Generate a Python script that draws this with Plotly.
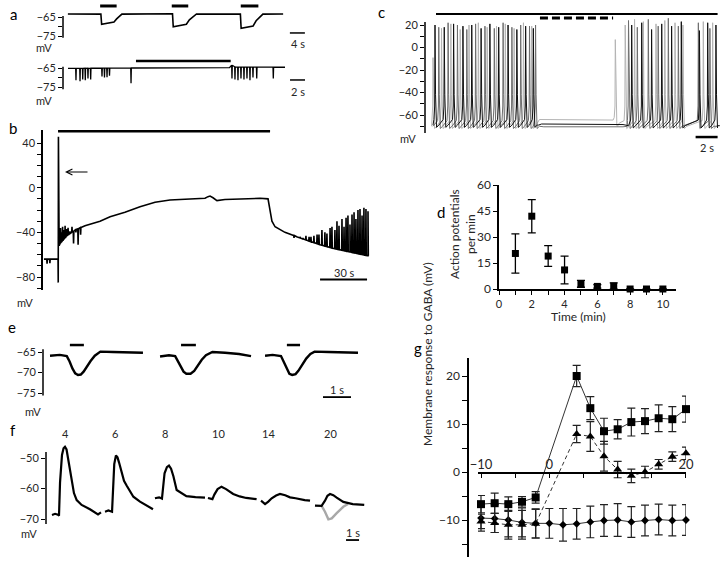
import numpy as np
import plotly.graph_objs as go

W, H = 725, 563
FONT = 'Lato'
TXT = '#262626'

# ---------------- values ----------------
# a, upper trace (s, mV) and GABA puffs
a1_t = [1.3, 10.1, 10.3, 13.6, 14.3, 15.7, 29.2, 29.4, 32.9, 33.7, 35.6, 47.3, 47.5, 50.7, 51.5, 53.3, 58.7]
a1_v = [-63.4, -63.5, -68.8, -67.6, -66.0, -63.5, -63.3, -70.1, -68.8, -66.5, -63.4, -63.5, -71.0, -69.7, -67.0, -63.5, -63.4]
a1_on = [9.9, 29.0, 47.4]
a1_off = [14.3, 33.4, 52.1]

# a, lower trace (s, mV) with downward spikelets
a2_t = [0.67, 9.5, 22.2, 22.5, 23.0, 29.6]
a2_v = [-65.2, -65.0, -64.8, -63.5, -64.5, -64.6]
a2_spk_t = [1.73, 2.27, 2.63, 2.97, 3.33, 3.69, 5.2, 5.53, 5.87, 6.2, 9.07,
            22.53, 22.93, 23.33, 23.73, 24.13, 24.53, 24.93, 25.33, 25.83, 28.04]
a2_spk_v = [-71.5, -72, -71, -71.5, -70.5, -71, -69.5, -70, -69.8, -69, -73,
            -70.5, -71, -71.5, -70.5, -71, -70.5, -71.5, -70, -70.5, -70.5]
a2_on = [9.73]
a2_off = [22.36]

# b, long application (s, mV)
b_t = [0.6, 9.6, 9.72, 9.85, 9.95, 10.3, 10.9, 12.8, 15.3, 20.4, 26.8, 36.4, 42.8, 52.3, 61.9, 71.5, 81.0,
       93.8, 103.4, 105.3, 106.6, 108.5, 111.0, 116.1, 125.7, 138.5, 143.6, 144.9, 146.1, 148.1, 154.4,
       159.5, 164.0, 176.8, 185.1, 195.9, 207.4]
b_v = [-64, -64, -85, 45.7, -20, -52, -50, -47, -43, -38, -34, -30, -26, -22, -17, -13, -11,
       -10, -9.5, -8, -7.5, -9, -11.5, -10.5, -10, -9.5, -10, -20, -30, -35, -40,
       -42.5, -45, -51, -54.3, -57.5, -61]
b_spk_t = [2.6, 4.4, 11.2, 11.8, 12.5, 13.3, 14.1, 15.0, 16.0, 17.2, 18.5, 19.5, 21.0, 22.4, 24.0,
           160.2, 162.1, 164.0, 165.9, 167.8, 169.8, 171.0, 172.9, 174.9, 176.1, 178.0, 179.9, 181.2, 183.2,
           184.4, 186.3, 187.6, 188.9, 190.8, 192.1, 193.4, 194.6, 195.9, 197.2, 198.5, 199.7, 201.0,
           202.3, 203.6, 204.8, 206.1, 207.4]
b_spk_v = [-68, -67.5, -36, -40, -35, -38, -34, -37, -36, -39, -35, -50, -40, -51, -42,
           -45, -44, -44, -45, -43, -44, -44, -43, -42, -42, -38, -40, -41, -36,
           -35, -38, -30, -34, -28, -35, -27, -25, -33, -24, -22, -28, -20,
           -19, -25, -18, -19, -21]
b_on = [9.6]
b_off = [144.9]

# c, three overlaid sweeps (s, mV): spike times and peaks
c_k_t = [0.91, 1.75, 2.6, 3.45, 4.25, 5.1, 5.9, 6.7, 7.55, 8.35, 9.15, 9.85,
         18.79, 19.7, 20.6, 21.52, 22.42, 23.3, 24.95, 25.7, 26.45]
c_k_p = [20, 18, 21, 19, 20, 17, 21, 18, 20, 16, 19, 17,
         20, 22, 16, 21, 19, 23, 15, 22, 20]
c_d_t = [1.25, 2.1, 2.95, 3.8, 4.6, 5.45, 6.3, 7.1, 7.9, 8.7, 9.5, 10.05,
         18.5, 19.3, 20.3, 21.2, 22.12, 23.03, 24.85, 25.9]
c_d_p = [18, 22, 20, 16, 21, 19, 17, 22, 18, 20, 19, 20,
         24, 18, 25, 19, 26, 19, 22, 17]
c_l_t = [0.73, 1.5, 2.35, 3.2, 4.0, 4.85, 5.65, 6.5, 7.3, 8.1, 8.95, 9.7,
         17.3, 18.2, 19.05, 19.85, 21.0, 21.8, 22.73, 23.45, 25.3, 26.15]
c_l_p = [-9, 17, 21, 16, 20, 22, 18, 19, 21, 17, 22, 19,
         7, 20, 25, 23, 21, 24, 22, 20, 23, 22]
c_k_base = ([0.73, 10.3, 10.6, 18.0, 18.5, 26.6], [-69, -69, -68, -68.5, -69.5, -69.5])
c_d_base = ([0.73, 10.4, 10.8, 18.0, 18.4, 26.6], [-70, -70, -70.5, -70.5, -70, -70])
c_l_base = ([0.6, 10.0, 10.4, 17.1, 17.5, 26.6], [-70, -70, -64, -64.5, -70, -70])
c_on, c_off = [1.0], [26.6]
c_dash_on, c_dash_off = [10.45], [17.1]

# d, action potential rate
d_min = [1, 2, 3, 4, 5, 6, 7, 8, 9, 10]
d_rate = [20.5, 42, 19, 11, 3, 1.5, 1.7, 0, 0, 0]
d_err = [11.3, 9.6, 6, 8, 2, 1, 1.8, 0, 0, 0]

# e, three GABA responses (s, mV)
e_sweeps = [
    ([0.25, 0.6, 0.85, 0.95, 1.05, 1.15, 1.25, 1.35, 1.45, 1.55, 1.7, 1.85, 2.05, 2.5, 3.0, 3.57],
     [-65.9, -65.7, -66.0, -67.3, -69.0, -70.2, -70.6, -70.5, -69.8, -68.7, -67.2, -65.9, -64.9, -65.0, -65.1, -65.2]),
    ([4.18, 4.5, 4.72, 4.82, 4.92, 5.02, 5.12, 5.27, 5.4, 5.52, 5.67, 5.82, 6.05, 6.5, 7.0, 7.43],
     [-66.1, -65.8, -66.0, -67.3, -68.8, -69.8, -70.3, -70.3, -69.6, -68.3, -66.9, -65.8, -65.0, -65.2, -65.5, -66.0]),
    ([7.93, 8.2, 8.5, 8.6, 8.7, 8.8, 8.9, 9.02, 9.12, 9.25, 9.4, 9.55, 9.7, 10.2, 10.7, 11.25],
     [-65.9, -65.7, -66.0, -67.5, -69.2, -70.3, -70.6, -70.4, -69.6, -68.2, -66.6, -65.5, -64.9, -65.0, -65.1, -65.2]),
]
e_on = [0.96, 4.93, 8.71]
e_off = [1.46, 5.46, 9.18]

# f, responses at days 4..20 (s, mV)
f_days = ['4', '6', '8', '10', '14', '20']
f_sweeps = [
    ([0.46, 0.7, 0.92, 1.0, 1.08, 1.23, 1.35, 1.46, 1.58, 1.69, 1.85, 1.97, 2.15, 2.36, 2.74, 3.38, 4.0, 4.23],
     [-68.7, -68.3, -68.6, -68.9, -58, -49, -46.8, -46.3, -47.2, -50, -54.5, -57.5, -61.5, -63.8, -65.4, -66.8, -68.5, -67.8]),
    ([4.54, 4.8, 5.08, 5.15, 5.25, 5.38, 5.5, 5.62, 5.85, 6.0, 6.2, 6.72, 7.23, 7.74, 8.13, 8.23],
     [-67.6, -67.2, -67.6, -62, -52, -49.2, -49.8, -51.5, -55.5, -57.5, -59, -62.7, -64.3, -65.5, -66.6, -66.8]),
    ([8.38, 8.7, 8.92, 9.0, 9.12, 9.3, 9.46, 9.62, 9.8, 10.05, 10.8, 11.5, 12.1, 12.23],
     [-63.2, -62.9, -63.3, -59, -55, -53, -52.5, -53.5, -56, -60.5, -62.5, -62.8, -63, -63]),
    ([12.46, 12.8, 12.95, 13.2, 13.5, 13.85, 14.4, 14.9, 15.4, 16.2],
     [-63.1, -63.5, -62.0, -60.2, -59.4, -60.2, -61.8, -62.6, -63.1, -63.5]),
    ([16.54, 16.85, 17.1, 17.36, 17.7, 18.0, 18.4, 18.77, 19.2, 19.54, 19.9, 20.31],
     [-64.0, -65.1, -64.3, -63.2, -62.3, -61.8, -62.2, -62.9, -63.2, -63.6, -63.8, -64.0]),
    ([20.69, 21.2, 21.46, 21.65, 21.85, 22.1, 22.36, 22.87, 23.6, 24.48],
     [-65.6, -65.7, -64.0, -62.4, -61.8, -62.2, -63.0, -64.4, -65.1, -65.4]),
]
f_gray_t = [21.2, 21.46, 21.72, 21.98, 22.36, 22.87, 23.23]
f_gray_v = [-65.7, -67.6, -70.1, -69.8, -68.1, -66.0, -65.1]

# g, membrane response to GABA vs day
g_sq_x = [-10, -8, -6, -4, -2, 4, 6, 8, 10, 12, 14, 16, 18, 20]
g_sq_y = [-6.7, -6.5, -6.7, -6.2, -5.3, 20.0, 13.3, 8.5, 8.9, 10.4, 10.6, 11.2, 11.0, 13.1]
g_sq_e = [1.8, 2.1, 1.5, 1.1, 1.2, 2.2, 2.4, 2.7, 2.0, 2.9, 2.6, 2.8, 2.6, 2.7]
g_tr_x = [-10, -8, -6, -4, -2, 4, 6, 8, 10, 12, 14, 16, 18, 20]
g_tr_y = [-10.3, -10.6, -11.0, -11.0, -10.8, 7.9, 7.4, 3.3, 0.5, -0.8, 0.0, 1.6, 3.2, 3.9]
g_tr_e = [1.5, 2.0, 3.0, 3.0, 3.0, 1.8, 3.1, 3.1, 1.7, 1.4, 1.2, 1.0, 1.0, 1.3]
g_ci_x = [-10, -8, -6, -4, -2, 0, 2, 4, 6, 8, 10, 12, 14, 16, 18, 20]
g_ci_y = [-9.6, -9.7, -10.0, -10.5, -10.7, -10.7, -11.0, -10.8, -10.4, -10.1, -10.0, -10.4, -10.1, -9.9, -10.1, -10.0]
g_ci_e = [2.7, 2.9, 3.5, 3.0, 3.0, 3.1, 3.4, 3.2, 3.3, 3.3, 3.4, 3.2, 3.2, 3.2, 3.2, 3.2]


# ---------------- helpers ----------------
def fx(px):
    return px / W


def fy(py):
    return 1 - py / H


def lin_x(d0, d1, p_ref, v_ref, ppu):
    return [v_ref + (d0 - p_ref) / ppu, v_ref + (d1 - p_ref) / ppu]


def lin_y(top, bot, p_ref, v_ref, ppu):
    return [v_ref - (bot - p_ref) / ppu, v_ref + (p_ref - top) / ppu]


def with_spikes(base_t, base_v, spk_t, spk_v, half):
    pts = list(zip(base_t, base_v))
    for t, v in zip(spk_t, spk_v):
        b = float(np.interp(t, base_t, base_v))
        pts += [(t - half, b), (t, v), (t + half, b)]
    pts.sort(key=lambda p: p[0])
    return [p[0] for p in pts], [p[1] for p in pts]


def ap_train(base, spk_t, spk_p):
    # action potentials riding on a resting level
    bt, bv = base
    pts = list(zip(bt, bv))
    for t, p in zip(spk_t, spk_p):
        b = float(np.interp(t, bt, bv))
        pts += [(t - 0.1, b + 5), (t - 0.03, -52), (t, p), (t + 0.05, -42),
                (t + 0.14, b - 2), (t + 0.35, b)]
    pts.sort(key=lambda p: p[0])
    return [p[0] for p in pts], [p[1] for p in pts]


def bars(on, off, level):
    xs, ys = [], []
    for a, b in zip(on, off):
        xs += [a, b, None]
        ys += [level, level, None]
    return xs, ys


traces = []


def line(x, y, n, color='black', width=1.5, dash=None):
    sfx = '' if n == 1 else str(n)
    traces.append(go.Scatter(x=x, y=y, mode='lines', xaxis='x' + sfx, yaxis='y' + sfx,
                             line=dict(color=color, width=width, dash=dash),
                             hoverinfo='skip', showlegend=False))


def xaxis(dom, rng, anchor, **kw):
    d = dict(domain=[fx(dom[0]), fx(dom[1])], range=rng, anchor=anchor, visible=False,
             showgrid=False, zeroline=False, automargin=False)
    d.update(kw)
    return d


def yaxis(dom, rng, anchor, **kw):
    d = dict(domain=[fy(dom[1]), fy(dom[0])], range=rng, anchor=anchor, showgrid=False, zeroline=False,
             showline=False, linecolor='black', linewidth=1.5, ticks='outside', ticklen=4, tickwidth=1.2,
             tickcolor='black', tickfont=dict(family=FONT, size=11, color=TXT), automargin=False)
    d.update(kw)
    return d


# ---------------- traces ----------------
# a
line(a1_t, a1_v, 1, width=1.6)
x, y = bars(a1_on, a1_off, -59.2)
line(x, y, 1, width=3)
x, y = bars([60.5], [64.5], -73.4)
line(x, y, 1, width=1.5)

x, y = with_spikes(a2_t, a2_v, a2_spk_t, a2_spk_v, 0.04)
line(x, y, 2, width=1.3)
x, y = bars(a2_on, a2_off, -61.3)
line(x, y, 2, width=2.5)
x, y = bars([30.27], [32.27], -71.3)
line(x, y, 2, width=1.5)

# b
x, y = with_spikes(b_t, b_v, b_spk_t, b_spk_v, 0.2)
line(x, y, 3, width=1.6)
x, y = bars(b_on, b_off, 50.8)
line(x, y, 3, width=3)
x, y = bars([176.8], [206.8], -82.2)
line(x, y, 3, width=2)

# c
x, y = ap_train(c_l_base, c_l_t, c_l_p)
line(x, y, 4, color='#b4b4b4', width=1)
x, y = ap_train(c_d_base, c_d_t, c_d_p)
line(x, y, 4, color='#6e6e6e', width=1)
x, y = ap_train(c_k_base, c_k_t, c_k_p)
line(x, y, 4, color='#111111', width=1)
x, y = bars(c_on, c_off, 29.8)
line(x, y, 4, width=2)
x, y = bars(c_dash_on, c_dash_off, 26.2)
line(x, y, 4, width=3, dash='8px,4px')
x, y = bars([24.6], [26.6], -79.6)
line(x, y, 4, width=2.5)

# d
traces.append(go.Scatter(x=d_min, y=d_rate, mode='markers', xaxis='x5', yaxis='y5',
                         marker=dict(symbol='square', size=7, color='black'),
                         error_y=dict(type='data', array=d_err, color='black', thickness=1.3, width=4),
                         cliponaxis=False, showlegend=False, hoverinfo='skip'))

# e
for t, v in e_sweeps:
    line(t, v, 6, width=2.4)
x, y = bars(e_on, e_off, -63.3)
line(x, y, 6, width=2.5)
x, y = bars([10.0], [11.0], -76.0)
line(x, y, 6, width=1.8)

# f
for i, (t, v) in enumerate(f_sweeps):
    if i == len(f_sweeps) - 1:
        line(f_gray_t, f_gray_v, 7, color='#a8a8a8', width=2.4)
    line(t, v, 7, width=2.2)
x, y = bars([23.08], [24.08], -76.9)
line(x, y, 7, width=1.8)

# g
g_common = dict(xaxis='x8', yaxis='y8', mode='lines+markers', cliponaxis=False,
                showlegend=False, hoverinfo='skip')
traces.append(go.Scatter(x=g_ci_x, y=g_ci_y, line=dict(color='#333', width=1),
                         marker=dict(symbol='diamond', size=6, color='black'),
                         error_y=dict(type='data', array=g_ci_e, color='#222', thickness=1.2, width=4),
                         **g_common))
traces.append(go.Scatter(x=g_tr_x, y=g_tr_y, line=dict(color='#333', width=1, dash='4px,3px'),
                         marker=dict(symbol='triangle-up', size=8, color='black'),
                         error_y=dict(type='data', array=g_tr_e, color='#222', thickness=1.2, width=4),
                         **g_common))
traces.append(go.Scatter(x=g_sq_x, y=g_sq_y, line=dict(color='#333', width=1),
                         marker=dict(symbol='square', size=8, color='black'),
                         error_y=dict(type='data', array=g_sq_e, color='#222', thickness=1.2, width=4),
                         **g_common))

fig = go.Figure(data=traces)

# ---------------- axes ----------------
tick_g = dict(family=FONT, size=12, color=TXT)

fig.update_layout(
    template='none',
    xaxis=xaxis((63, 310), lin_x(63, 310, 63, 0, 3.75), 'y'),
    yaxis=yaxis((3, 42), lin_y(3, 42, 17, -65, 1.9), 'x',
                tickvals=[-65, -70, -75], ticktext=['\u221265', '', '\u221275']),
    xaxis2=xaxis((63, 310), lin_x(63, 310, 63, 0, 7.5), 'y2'),
    yaxis2=yaxis((50, 93), lin_y(50, 93, 68, -65, 1.9), 'x2',
                 tickvals=[-65, -70, -75], ticktext=['\u221265', '', '\u221275']),
    xaxis3=xaxis((43, 375), lin_x(43, 375, 43, 0, 1.567), 'y3'),
    yaxis3=yaxis((130, 290), lin_y(130, 290, 187.7, 0, 1.1167), 'x3', showline=True,
                 tickvals=[40, 0, -40, -80],
                 minor=dict(tickvals=[30, 20, 10, -10, -20, -30, -50, -60, -70, -90],
                            ticks='outside', ticklen=4, tickcolor='black', tickwidth=1.2)),
    xaxis4=xaxis((425, 722), lin_x(425, 722, 425, 0, 11), 'y4'),
    yaxis4=yaxis((8, 140), lin_y(8, 140, 47.5, 0, 1.125), 'x4',
                 tickvals=[20, 0, -20, -40, -60],
                 minor=dict(tickvals=[10, -10, -30, -50, -70],
                            ticks='outside', ticklen=4, tickcolor='black', tickwidth=1.2)),
    xaxis5=dict(domain=[fx(499), fx(676)], range=[0, 10.8], anchor='y5', showgrid=False, zeroline=False,
                showline=True, linecolor='black', linewidth=1.5, ticks='outside', ticklen=4,
                tickwidth=1.2, tickcolor='black', tickvals=list(range(0, 11)), automargin=False,
                ticktext=['0', '', '2', '', '4', '', '6', '', '8', '', '10'],
                tickfont=dict(family=FONT, size=11, color=TXT)),
    yaxis5=yaxis((185, 289), [0, 60], 'x5', showline=True, tickvals=[0, 15, 30, 45, 60], tickfont=tick_g),
    xaxis6=xaxis((43, 362), lin_x(43, 362, 43, 0, 28), 'y6'),
    yaxis6=yaxis((338, 402), lin_y(338, 402, 352, -65, 4.1), 'x6',
                 tickvals=[-65, -70, -75]),
    xaxis7=xaxis((46, 366), lin_x(46, 366, 46, 0, 13), 'y7'),
    yaxis7=yaxis((440, 545), lin_y(440, 545, 458, -50, 3.05), 'x7',
                 tickvals=[-50, -60, -70]),
    xaxis8=dict(domain=[fx(478), fx(686)], range=lin_x(478, 686, 481, -10, 6.833), anchor='free',
                position=fy(472.5), showgrid=False, zeroline=False, showline=True, linecolor='black',
                linewidth=1.5, ticks='outside', ticklen=5, tickwidth=1.2, tickcolor='black',
                tickvals=[-10, -5, 0, 5, 10, 15, 20], ticktext=['\u221210', '', '0', '', '', '', '20'],
                ticklabelposition='inside', ticklabeloverflow='allow', automargin=False,
                tickfont=dict(family=FONT, size=13, color=TXT)),
    yaxis8=yaxis((358, 557), lin_y(358, 557, 472, 0, 4.8), 'free', position=fx(468), showline=True,
                 ticklen=5, tickvals=[20, 10, 0, -10], tickfont=tick_g,
                 minor=dict(tickvals=[15, 5, -5, -15], ticks='outside', ticklen=5,
                            tickcolor='black', tickwidth=1.2)),
)

# free-standing axis lines for the trace panels
axis_lines = [('x', 'y', -64.5, -75.9), ('x2', 'y2', -64.3, -76.2), ('x4', 'y4', 22.7, -76),
              ('x6', 'y6', -64.3, -75.6), ('x7', 'y7', -48, -71.6)]
for xa, ya, y0, y1 in axis_lines:
    fig.add_shape(type='line', xref=xa + ' domain', x0=0, x1=0, yref=ya, y0=y0, y1=y1,
                  line=dict(color='black', width=1.5))

# ---------------- text ----------------
labels = [
    ('a', 13, 14, 15), ('b', 13, 128, 15), ('c', 381, 12, 15), ('d', 441, 212, 15),
    ('e', 12, 327, 15), ('f', 13, 430, 15), ('g', 418, 348, 15),
    ('mV', 44, 47, 11), ('mV', 44, 100, 11), ('mV', 25, 302, 11), ('mV', 408, 138, 11),
    ('mV', 33, 411, 11), ('mV', 29, 533, 11),
    ('4 s', 298, 43, 11), ('2 s', 298, 91, 11), ('30 s', 344, 272, 11), ('2 s', 707, 147, 11),
    ('1 s', 337, 389, 11), ('1 s', 353, 532, 11),
    ('Time (min)', 578, 316, 12),
]
f_label_px = [65, 115, 165, 218, 268, 330]
for d, px in zip(f_days, f_label_px):
    labels.append((d, px, 433, 11))

for txt, px, py, size in labels:
    fig.add_annotation(text=txt, x=fx(px), y=fy(py), xref='paper', yref='paper', showarrow=False,
                       xanchor='center', yanchor='middle',
                       font=dict(family=FONT, size=size, color='black' if size == 15 else TXT))

fig.add_annotation(text='Action potentials<br>per min', x=fx(462), y=fy(234), xref='paper', yref='paper',
                   showarrow=False, textangle=-90, font=dict(family=FONT, size=12, color=TXT))
fig.add_annotation(text='Membrane response to GABA (mV)', x=fx(427), y=fy(448), xref='paper',
                   yref='paper', showarrow=False, textangle=-90, font=dict(family=FONT, size=12, color=TXT))

# arrow pointing at the first spike in b
fig.add_annotation(text='', x=fx(65), y=fy(172), xref='paper', yref='paper', ax=24, ay=0,
                   showarrow=True, arrowhead=5, arrowsize=1, arrowwidth=1.2, arrowcolor='black')

fig.update_layout(width=W, height=H, margin=dict(l=0, r=0, t=0, b=0, pad=0),
                  paper_bgcolor='white', plot_bgcolor='rgba(0,0,0,0)', showlegend=False,
                  font=dict(family=FONT, size=11, color=TXT))

fig.write_html('out.html', config={'displayModeBar': False},
               post_script="document.body.style.margin='0';document.body.style.overflow='hidden';")
